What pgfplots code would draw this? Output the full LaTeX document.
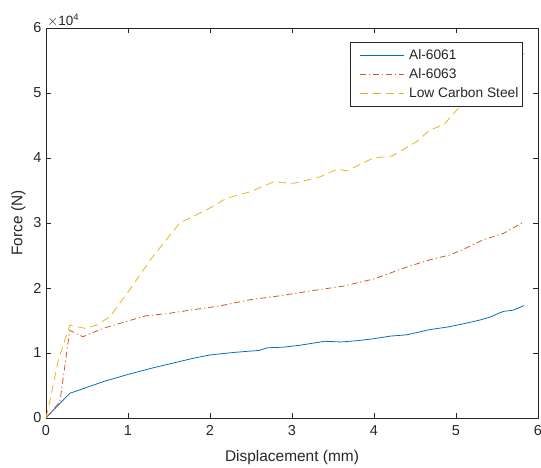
\documentclass[border=0pt]{standalone}
\usepackage{pgfplots}
\pgfplotsset{compat=1.18}
\usepackage{fontspec}
\setmainfont{Liberation Sans}

\definecolor{mblue}{rgb}{0,0.447,0.741}
\definecolor{mred}{rgb}{0.85,0.325,0.098}
\definecolor{myellow}{rgb}{0.929,0.694,0.125}
\definecolor{axgray}{rgb}{0.15,0.15,0.15}

\begin{document}
\begin{tikzpicture}
  \begin{axis}[
    at={(0,0)}, anchor=south west,
    scale only axis,
    width=492bp, height=390bp,
    xmin=0, xmax=6, ymin=0, ymax=60000,
    xtick={0,1,...,6},
    ytick={0,10000,20000,30000,40000,50000,60000},
    yticklabels={0,1,2,3,4,5,6},
    scaled y ticks=false,
    tick align=inside,
    major tick length=5bp,
    axis line style={axgray, line width=0.6pt},
    tick style={axgray, line width=0.6pt},
    every tick label/.append style={font=\fontsize{14.5}{15}\selectfont, text=axgray},
    xticklabel style={yshift=-4bp},
    yticklabel style={xshift=-1bp},
    /pgf/number format/assume math mode=true,
    xlabel={Displacement (mm)},
    ylabel={Force (N)},
    xlabel style={yshift=-8bp},
    ylabel style={yshift=1bp},
    label style={font=\fontsize{15.5}{17}\selectfont, text=axgray},
    legend style={at={(0.618,0.964)}, anchor=north west, draw=axgray,
      font=\fontsize{13.8}{15}\selectfont, text=axgray, row sep=0pt,
      inner xsep=2pt, inner ysep=3pt, legend cell align=left,
      line width=0.6pt},
    legend image code/.code={\path (-7bp,-9.25bp) (47bp,9.25bp);
      \draw[#1] (0bp,0bp) -- (44bp,0bp);},
    clip=true,
  ]
    \addplot[mblue, line width=0.8pt] coordinates {
      (0,0) (0.15,2000) (0.29,3800) (0.45,4500) (0.7,5600) (1.0,6700)
      (1.3,7700) (1.6,8600) (1.8,9200) (2.0,9700) (2.3,10100) (2.6,10400)
      (2.7,10800) (2.9,10900) (3.1,11200) (3.4,11800) (3.6,11700) (3.8,11900)
      (4.0,12200) (4.2,12600) (4.4,12800) (4.68,13600) (4.9,14000) (5.13,14600)
      (5.3,15100) (5.41,15500) (5.5,16000) (5.58,16400) (5.7,16600) (5.83,17300)
    };
    \addlegendentry{Al-6061}
    \addplot[mred, line width=0.8pt, dash pattern=on 6bp off 3bp on 1.2bp off 3bp] coordinates {
      (0,0) (0.17,2500) (0.29,13500) (0.45,12500) (0.7,13800) (1.02,15000)
      (1.21,15700) (1.5,16100) (1.76,16600) (2.1,17200) (2.49,18200) (2.85,18800)
      (3.2,19500) (3.63,20300) (4.0,21400) (4.44,23400) (4.7,24400) (4.93,25100)
      (5.1,26000) (5.33,27400) (5.58,28400) (5.83,30200)
    };
    \addlegendentry{Al-6063}
    \addplot[myellow, line width=0.8pt, dash pattern=on 8bp off 5bp] coordinates {
      (0,0) (0.05,2800) (0.15,8900) (0.29,14300) (0.476,13800) (0.62,14300)
      (0.78,15600) (1.02,19700) (1.27,24300) (1.63,30000) (2.0,32300)
      (2.2,33800) (2.49,34800) (2.79,36400) (2.89,36200) (3.02,36100)
      (3.34,37100) (3.56,38300) (3.67,38000) (3.99,40000) (4.22,40300)
      (4.52,42500) (4.68,44300) (4.85,45100) (5.01,47400) (5.17,48900)
      (5.4,51500) (5.6,53800) (5.83,56100)
    };
    \addlegendentry{Low Carbon Steel}
  \end{axis}
  \node[anchor=south west, text=axgray, font=\fontsize{13.5}{14}\selectfont, inner sep=1pt]
    at (0bp,390bp) {$\times$10\textsuperscript{4}};
  \pgfresetboundingbox
  \path (-46bp,-50bp) rectangle (495bp,418bp);
\end{tikzpicture}
\end{document}
